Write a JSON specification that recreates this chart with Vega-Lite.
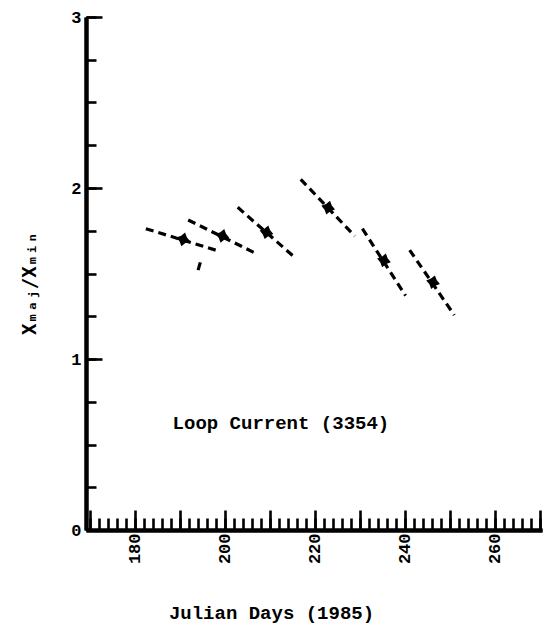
{
  "$schema": "https://vega.github.io/schema/vega-lite/v6.json",
  "width": 456,
  "height": 513,
  "autosize": {"type": "none"},
  "padding": {"left": 86, "top": 17, "right": 5, "bottom": 93},
  "background": "white",
  "config": {
    "view": {"stroke": null},
    "font": "Liberation Mono",
    "axis": {
      "domainColor": "black",
      "domainWidth": 4,
      "tickColor": "black",
      "tickWidth": 2.6,
      "grid": false,
      "labelColor": "black",
      "titleColor": "black",
      "labelFont": "Liberation Mono",
      "titleFont": "Liberation Mono",
      "labelFontWeight": "bold",
      "titleFontWeight": "bold",
      "labelOverlap": false,
      "labelFlush": false
    }
  },
  "datasets": {
    "points": [
      {"day": 190.8, "ratio": 1.70},
      {"day": 199.5, "ratio": 1.72},
      {"day": 209.3, "ratio": 1.741},
      {"day": 223.0, "ratio": 1.885},
      {"day": 235.4, "ratio": 1.577},
      {"day": 246.3, "ratio": 1.449}
    ],
    "segments": [
      {"seg": 1, "day": 182.5, "ratio": 1.762},
      {"seg": 1, "day": 198.6, "ratio": 1.632},
      {"seg": 2, "day": 191.9, "ratio": 1.813},
      {"seg": 2, "day": 207.2, "ratio": 1.614},
      {"seg": 3, "day": 202.9, "ratio": 1.887},
      {"seg": 3, "day": 215.8, "ratio": 1.589},
      {"seg": 4, "day": 216.9, "ratio": 2.051},
      {"seg": 4, "day": 228.9, "ratio": 1.719},
      {"seg": 5, "day": 230.6, "ratio": 1.762},
      {"seg": 5, "day": 240.2, "ratio": 1.370},
      {"seg": 6, "day": 241.1, "ratio": 1.637},
      {"seg": 6, "day": 251.0, "ratio": 1.257},
      {"seg": 7, "day": 194.6, "ratio": 1.565},
      {"seg": 7, "day": 194.1, "ratio": 1.52}
    ],
    "labels": [
      {"day": 212.5, "ratio": 0.626, "text": "Loop Current (3354)"}
    ]
  },
  "resolve": {"axis": {"x": "independent", "y": "independent"}},
  "layer": [
    {
      "data": {"name": "segments"},
      "mark": {"type": "line", "color": "black", "strokeWidth": 3.2, "strokeDash": [8, 5]},
      "encoding": {
        "x": {
          "field": "day", "type": "quantitative",
          "scale": {"domain": [169.2, 270.5], "nice": false, "zero": false},
          "axis": {
            "orient": "bottom",
            "values": [170,172,174,176,178,180,182,184,186,188,190,192,194,196,198,200,202,204,206,208,210,212,214,216,218,220,222,224,226,228,230,232,234,236,238,240,242,244,246,248,250,252,254,256,258,260,262,264,266,268,270],
            "labels": false,
            "tickSize": -12,
            "title": null
          }
        },
        "y": {
          "field": "ratio", "type": "quantitative",
          "scale": {"domain": [0, 3], "nice": false},
          "axis": {
            "orient": "left",
            "values": [0,0.25,0.5,0.75,1,1.25,1.5,1.75,2,2.25,2.5,2.75,3],
            "labels": false,
            "tickSize": -10,
            "title": null
          }
        },
        "detail": {"field": "seg"}
      }
    },
    {
      "data": {"name": "points"},
      "mark": {
        "type": "point",
        "shape": "M0,-1L0.42,-0.42L1,0L0.42,0.42L0,1L-0.42,0.42L-1,0L-0.42,-0.42Z",
        "filled": true,
        "color": "black",
        "opacity": 1,
        "size": 200,
        "angle": 15
      },
      "encoding": {
        "x": {
          "field": "day", "type": "quantitative",
          "axis": {
            "orient": "bottom",
            "values": [170,180,190,200,210,220,230,240,250,260,270],
            "labelExpr": "datum.value % 20 === 0 ? format(datum.value, 'd') : ''",
            "labelAngle": 270,
            "labelAlign": "right",
            "labelBaseline": "middle",
            "labelFontSize": 17,
            "tickSize": -20,
            "labelPadding": 23,
            "title": "Julian Days (1985)",
            "titleFontSize": 19,
            "titleX": 185,
            "titleY": 82,
            "titleAlign": "center",
            "titleBaseline": "middle"
          }
        },
        "y": {
          "field": "ratio", "type": "quantitative",
          "axis": {
            "orient": "left",
            "values": [0, 1, 2, 3],
            "format": "d",
            "labelFontSize": 17,
            "tickSize": -16,
            "labelPadding": 21,
            "labelBaseline": "middle",
            "title": "Xₘₐⱼ/Xₘᵢₙ",
            "titleFont": "DejaVu Sans Mono",
            "titleFontSize": 19,
            "titleAngle": 270,
            "titleX": -57,
            "titleY": 266,
            "titleAlign": "center",
            "titleBaseline": "middle"
          }
        }
      }
    },
    {
      "data": {"name": "labels"},
      "mark": {"type": "text", "font": "Liberation Mono", "fontWeight": "bold", "fontSize": 19, "color": "black", "align": "center", "baseline": "middle"},
      "encoding": {
        "x": {"field": "day", "type": "quantitative", "axis": null},
        "y": {"field": "ratio", "type": "quantitative", "axis": null},
        "text": {"field": "text"}
      }
    }
  ]
}
